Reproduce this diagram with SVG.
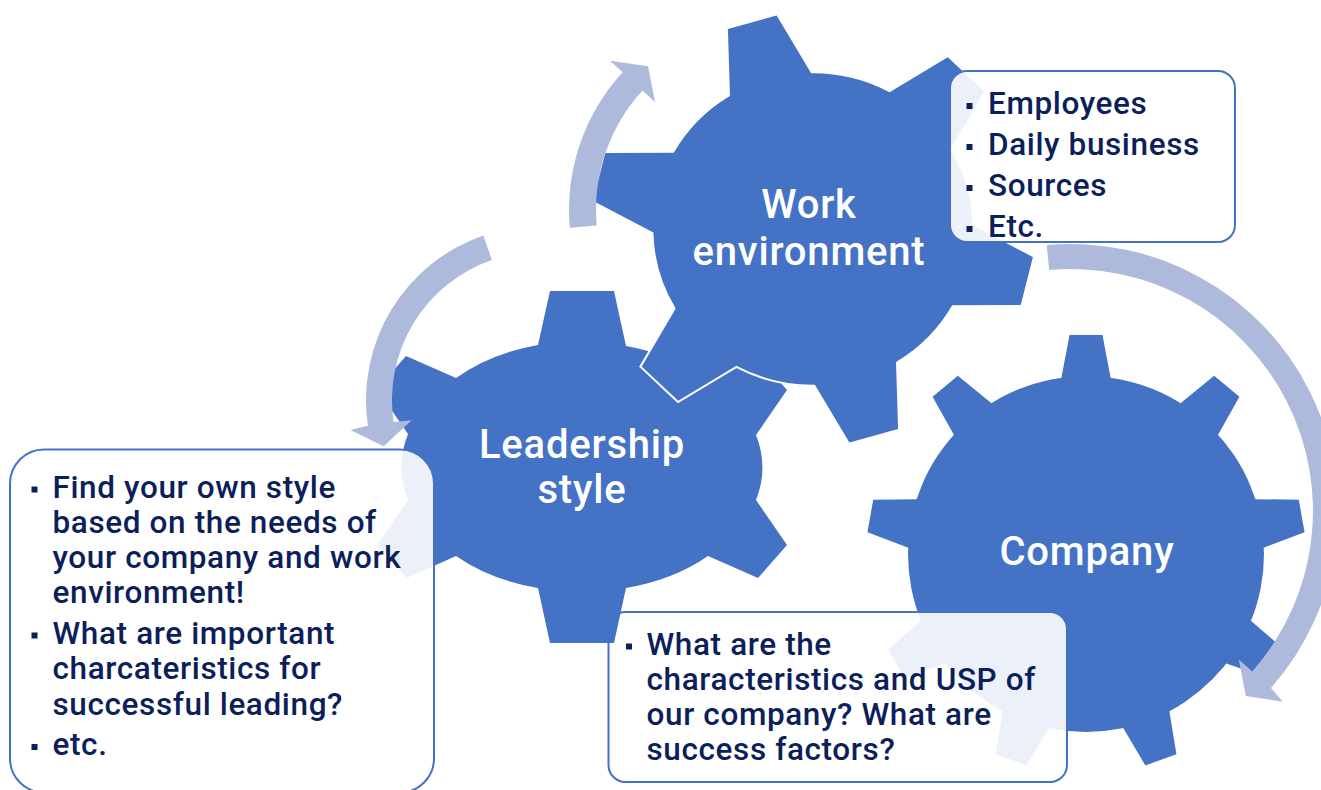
<svg xmlns="http://www.w3.org/2000/svg" xmlns:xlink="http://www.w3.org/1999/xlink" width="1321" height="790" viewBox="0 0 1321 790">
<style>
.gear{fill:#4472C4}
.arc{fill:#AEBADC}
.box{fill:#FFFFFF;fill-opacity:0.9;stroke:#4472C4;stroke-width:2}
.lbl{font-family:Roboto,"Liberation Sans",sans-serif;font-size:40px;font-weight:500;letter-spacing:0.8px;fill:#FFFFFF;text-anchor:middle}
.txt{font-family:Roboto,"Liberation Sans",sans-serif;font-size:31.5px;font-weight:500;letter-spacing:0.62px;fill:#0C1F5B}
.bul{fill:#0C1F5B}
</style>
<defs>
<path id="gear6" d="M-42,-151 L-25.5,-216 L25.5,-216 L42,-151 A156.7,156.7 0 0 1 109.77,-111.87 L174.31,-130.08 L199.81,-85.92 L151.77,-39.13 A156.7,156.7 0 0 1 151.77,39.13 L199.81,85.92 L174.31,130.08 L109.77,111.87 A156.7,156.7 0 0 1 42,151 L25.5,216 L-25.5,216 L-42,151 A156.7,156.7 0 0 1 -109.77,111.87 L-174.31,130.08 L-199.81,85.92 L-151.77,39.13 A156.7,156.7 0 0 1 -151.77,-39.13 L-199.81,-85.92 L-174.31,-130.08 L-109.77,-111.87 A156.7,156.7 0 0 1 -42,-151 Z"/>
<polygon id="tooth9" points="-25,-174 -16.5,-219 16.5,-219 25,-174"/>
</defs>

<g id="company">
<g class="gear" transform="translate(1086 554)">
<circle r="178"/>
<use xlink:href="#tooth9"/>
<use xlink:href="#tooth9" transform="rotate(40)"/>
<use xlink:href="#tooth9" transform="rotate(80)"/>
<use xlink:href="#tooth9" transform="rotate(120)"/>
<use xlink:href="#tooth9" transform="rotate(160)"/>
<use xlink:href="#tooth9" transform="rotate(200)"/>
<use xlink:href="#tooth9" transform="rotate(240)"/>
<use xlink:href="#tooth9" transform="rotate(280)"/>
<use xlink:href="#tooth9" transform="rotate(320)"/>
</g>
<text class="lbl" x="1087" y="565">Company</text>
</g>

<g id="company-notes">
<rect class="box" x="608.5" y="612" width="458.5" height="170" rx="17"/>
<rect class="bul" x="626" y="643.5" width="6" height="6"/>
<text class="txt" x="646.5" y="654.5">What are the</text>
<text class="txt" x="646.5" y="689.5">characteristics and USP of</text>
<text class="txt" x="646.5" y="724.5">our company? What are</text>
<text class="txt" x="646.5" y="759.5">success factors?</text>
</g>

<g id="leadership">
<path class="gear" d="M538,345 L550,291 L614,291 L626,346 A175,122 0 0 1 708,379 L758,357 L787,390 L756,435 A175,122 0 0 1 756,500 L787,545 L758,578 L708,556 A175,122 0 0 1 626,588 L614,643 L550,643 L538,588 A175,122 0 0 1 456,556 L407,578 L377,545 L408,500 A175,122 0 0 1 408,434 L377,389 L406,356 L456,378 A175,122 0 0 1 538,345 Z"/>
<text class="lbl" x="582" y="458">Leadership</text>
<text class="lbl" x="582" y="503">style</text>
</g>

<g id="leadership-notes">
<rect class="box" x="10" y="449.5" width="424" height="343" rx="34"/>
<rect class="bul" x="31.5" y="486.5" width="6" height="6"/>
<text class="txt" x="52.5" y="497.5">Find your own style</text>
<text class="txt" x="52.5" y="532.5">based on the needs of</text>
<text class="txt" x="52.5" y="567.5">your company and work</text>
<text class="txt" x="52.5" y="602.5">environment!</text>
<rect class="bul" x="31.5" y="632.5" width="6" height="6"/>
<text class="txt" x="52.5" y="643.5">What are important</text>
<text class="txt" x="52.5" y="679">charcateristics for</text>
<text class="txt" x="52.5" y="714.5">successful leading?</text>
<rect class="bul" x="31.5" y="744" width="6" height="6"/>
<text class="txt" x="52.5" y="755">etc.</text>
</g>

<g id="work-environment">
<use xlink:href="#gear6" class="gear" stroke="#FFFFFF" stroke-width="2" transform="translate(813 229) scale(1.025 1) rotate(-16)"/>
<text class="lbl" x="809" y="218">Work</text>
<text class="lbl" x="809" y="265">environment</text>
</g>

<g id="work-environment-notes">
<rect class="box" x="950" y="71" width="285" height="171" rx="17"/>
<rect class="bul" x="966.5" y="103" width="6" height="6"/>
<text class="txt" x="988" y="114">Employees</text>
<rect class="bul" x="966.5" y="144" width="6" height="6"/>
<text class="txt" x="988" y="155">Daily business</text>
<rect class="bul" x="966.5" y="185" width="6" height="6"/>
<text class="txt" x="988" y="196">Sources</text>
<rect class="bul" x="966.5" y="226" width="6" height="6"/>
<text class="txt" x="988" y="237">Etc.</text>
</g>

<g id="connectors">
<path class="arc" d="M569.8,227.8 A204,204 0 0 1 622.6,72.2 L610.1,60.7 L648,66.2 L655,101.9 L642.5,90.4 A177,177 0 0 0 596.7,225.4 Z"/>
<path class="arc" d="M483.4,235.5 A174,174 0 0 0 367.9,425.7 L350.4,430 L383.7,446.3 L411.6,420.3 L393.6,421.9 A148,148 0 0 1 491.8,260.1 Z"/>
<path class="arc" d="M1046.8,245.1 A267,267 0 0 1 1271,687.9 L1282.8,701.7 L1245.9,695.9 L1238.8,659.4 L1252.2,671.4 A242,242 0 0 0 1049.1,270 Z"/>
</g>
</svg>
